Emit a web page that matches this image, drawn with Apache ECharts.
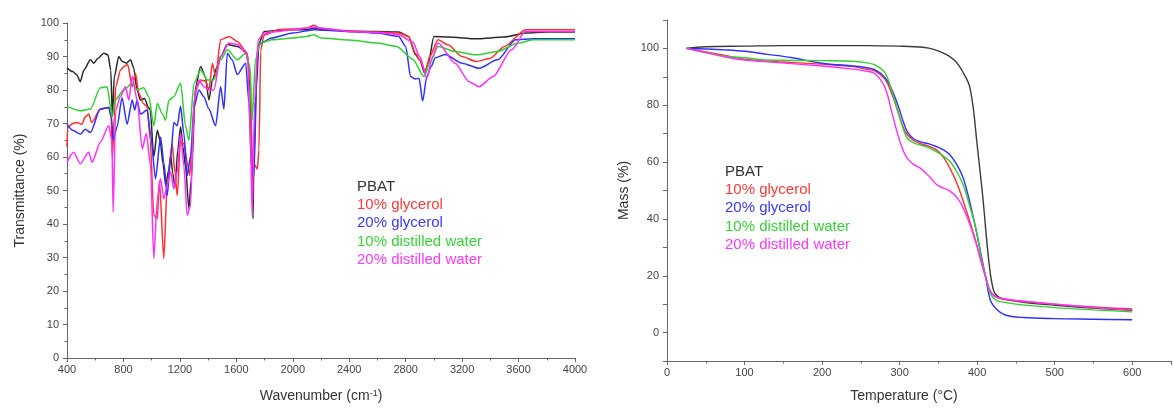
<!DOCTYPE html>
<html>
<head>
<meta charset="utf-8">
<script src="https://cdn.jsdelivr.net/npm/echarts@6/dist/echarts.min.js"></script>
<style>
html,body{margin:0;padding:0;background:#fff;}
#chart{width:1174px;height:408px;}
</style>
</head>
<body>
<div id="chart"></div>
<script>
// ---------- Data ----------
const seriesNames = ['PBAT', '10% glycerol', '20% glycerol', '10% distilled water', '20% distilled water'];

// FTIR: [wavenumber (cm-1), transmittance (%)]
const irPBAT = [[400,86.6],[440,85.5],[470,84.5],[494,82.5],[520,86],[566,89],[590,88],[620,89.5],[660,91],[690,90.5],[710,86],[722,72],[735,84],[767,90],[790,88.6],[820,88],[850,89],[870,87],[897,80],[920,77],[950,77.5],[975,75],[990,74],[1015,60],[1040,68],[1060,65],[1080,58],[1100,51.5],[1120,56],[1135,60.4],[1150,55],[1165,51],[1185,62],[1205,69],[1222,63],[1240,57],[1264,44.6],[1280,53],[1311,81],[1347,87],[1380,84],[1406,77],[1430,83],[1465,87],[1489,90],[1536,93.6],[1607,93],[1666,91.6],[1690,87],[1700,77],[1712,58],[1718,41.6],[1725,60],[1740,80],[1761,94],[1797,97.5],[1900,97.8],[2000,98],[2100,98],[2150,98.5],[2200,98],[2400,97.5],[2600,97.5],[2750,97.3],[2820,96],[2870,90.5],[2900,89],[2935,85],[2960,88],[3000,96],[3100,95.8],[3300,95.3],[3500,95.8],[3650,97],[3800,97.3],[4000,97.3]];
const irGly10 = [[400,63],[405,68.8],[440,70],[470,70.3],[506,69.8],[530,72],[554,72.8],[575,70.3],[636,74.3],[696,74.8],[712,72],[722,60],[735,72],[745,81],[780,86],[802,87],[830,87.6],[862,81],[885,85],[909,79],[940,76],[968,75],[990,65],[1015,42.6],[1040,41.6],[1055,53],[1086,29.7],[1110,51.5],[1145,64],[1165,55.4],[1181,48.5],[1205,65],[1228,64],[1252,58.4],[1270,54.5],[1288,65],[1311,80],[1347,83],[1382,82.7],[1406,80],[1430,88],[1453,84],[1489,95],[1548,96],[1607,94.5],[1678,91],[1700,82],[1712,57.4],[1725,58],[1749,56.4],[1760,62],[1773,92],[1797,96.5],[1900,98],[2000,98.2],[2100,98.5],[2150,99.3],[2200,98.3],[2400,97.7],[2600,97.3],[2750,97],[2820,96],[2870,91],[2900,89],[2940,85.6],[2970,90],[3030,95],[3100,93.5],[3200,90],[3300,88.5],[3400,89.5],[3500,93],[3650,98],[3800,98],[4000,98]];
const irGly20 = [[400,69.8],[440,68],[494,66.8],[530,68.3],[566,67.3],[636,74.3],[696,74.8],[715,72],[727,65],[755,69],[790,77.7],[826,69.8],[862,77],[880,74],[897,77],[920,72.8],[968,74],[992,67],[1027,53.5],[1063,66],[1086,58.4],[1110,48.5],[1134,59.4],[1157,70.3],[1181,69.3],[1205,75.2],[1228,67],[1252,54.5],[1276,60.4],[1300,75],[1335,80],[1370,78],[1406,74.3],[1453,69.3],[1489,81],[1512,74.3],[1536,91],[1570,89],[1607,84.6],[1666,88],[1690,76],[1706,57.4],[1725,54.5],[1749,92],[1773,94],[1850,95.5],[2000,97],[2150,98],[2400,97.5],[2600,97],[2750,96],[2800,93],[2835,84],[2870,83.3],[2895,83.5],[2920,76.7],[2950,84],[2980,87],[3010,89.6],[3080,90.6],[3200,88],[3320,86.5],[3450,89],[3580,95],[3700,95.3],[4000,95.3]];
const irWat10 = [[400,75.2],[494,73.8],[566,74.3],[636,80.7],[684,81],[720,72],[742,77],[802,80],[862,82],[897,80],[944,80.7],[980,78],[1015,69.3],[1040,76],[1075,73],[1098,71],[1122,77],[1157,78],[1205,82],[1240,69.3],[1264,65],[1300,82],[1347,86],[1394,83],[1441,83],[1489,89],[1536,92],[1607,89],[1666,91],[1697,87],[1712,71],[1735,89],[1770,94],[1850,95],[2000,95.5],[2100,96],[2150,96.5],[2200,95.5],[2400,94.9],[2600,94],[2736,93],[2850,89.2],[2930,84],[2970,88],[3030,93],[3150,91.5],[3300,90.5],[3450,91.5],[3600,94],[3700,95],[4000,95]];
const irWat20 = [[400,58.4],[447,61.4],[494,58],[554,61.4],[578,58.4],[636,64.4],[696,69.3],[718,65],[727,43.5],[745,74],[778,78],[814,81],[838,77],[862,84],[897,77],[933,62.4],[962,67],[992,57.4],[1015,29.7],[1040,47.5],[1063,53.5],[1086,47.5],[1110,51.5],[1134,55.5],[1157,50.5],[1181,55.5],[1205,67],[1228,57.4],[1252,42.6],[1276,45.5],[1300,77],[1335,83],[1370,81],[1406,80],[1441,80],[1489,90],[1548,94],[1607,93.6],[1678,90.6],[1700,67],[1712,42.6],[1730,77],[1755,95],[1797,97],[1900,97.5],[2000,98],[2150,98.7],[2400,97.5],[2600,97.2],[2750,96.5],[2850,94.3],[2900,90],[2950,83.5],[2990,90],[3030,94],[3150,88],[3250,82.5],[3320,81],[3420,84],[3550,92],[3650,97.5],[4000,97.5]];

// TGA: [temperature (°C), mass (%)]
const tgaPBAT = [[25,100],[50,100.6],[100,100.8],[150,101],[200,101],[256,101],[300,100.8],[330,100.4],[345,99.6],[360,97.9],[370,96],[377,93.8],[385,90],[390,86.9],[395,79],[400,66],[407,48.5],[415,25.3],[421,15],[428,12.5],[450,11],[500,9.6],[550,8.6],[600,7.8]];
const tgaGly10 = [[25,100],[50,98.8],[75,97.5],[100,96.2],[130,95.5],[200,94.5],[240,93.6],[256,92.7],[268,92.1],[281,89.2],[290,84],[298,77.6],[305,72],[310,69.6],[318,67.6],[327,66.5],[338,65.5],[348,64.2],[357,61.5],[365,57.8],[374,52.5],[382,46.3],[390,39.5],[398,32.3],[405,25],[411,19.5],[417,14.5],[424,12.6],[432,11.8],[450,11.2],[500,10],[550,9],[600,8.3]];
const tgaGly20 = [[25,100],[50,99.8],[75,99.5],[100,99],[130,97.9],[160,96.8],[200,94.8],[240,93.8],[256,93.3],[268,92.5],[281,89.8],[290,85.5],[298,79.9],[305,74],[310,70.6],[318,68.2],[327,67.1],[338,66.4],[348,65.4],[357,64.2],[365,62.5],[374,59],[382,54.4],[390,46.5],[398,36.9],[405,27.5],[411,19.5],[417,11.4],[425,8.2],[436,6.2],[460,5.3],[500,4.9],[550,4.7],[600,4.5]];
const tgaWat10 = [[25,100],[50,98.5],[75,97.3],[100,96.7],[130,95.9],[200,95.7],[240,95.5],[256,95],[268,94.2],[281,91.5],[290,85],[298,77.6],[305,71.5],[310,68.3],[318,66.8],[327,66],[338,65],[348,63.6],[357,62],[365,60.2],[374,56.5],[382,52],[390,45],[398,36.9],[405,27],[411,19.5],[417,13.7],[424,11.5],[432,10.8],[450,10],[500,8.8],[550,8],[600,7.3]];
const tgaWat20 = [[25,100],[50,98.5],[75,97],[100,95.9],[130,95.3],[200,93.8],[240,92.7],[256,92],[268,91.2],[281,86.3],[290,77.5],[298,69.4],[305,63.8],[310,61.3],[318,59.2],[327,57.8],[338,55],[348,52],[357,50.8],[365,49.8],[374,47.5],[382,43.9],[390,38.5],[398,32],[405,25.5],[411,19.5],[417,14.5],[424,12.6],[432,12],[450,11.3],[500,10],[550,8.8],[600,8]];

// ---------- Styling ----------
const colors = ['#2a2a2a', '#ff3030', '#3030ff', '#30d030', '#ff30ff'];
const tgaColors = ['#3a3a3a', '#ff3030', '#3030ff', '#30d030', '#ff30ff'];
const legendColors = ['#333333', '#ff3a3a', '#3a3aff', '#3ad03a', '#ff3aff'];
const FONT = 'Liberation Sans, Arial, sans-serif';

const axisCommon = {
  splitLine: { show: false },
  axisLine: { show: true, onZero: false, lineStyle: { color: '#666', width: 1 } },
  axisTick: { show: true, length: 4, lineStyle: { color: '#666' } },
  axisLabel: { color: '#444', fontSize: 11, fontFamily: FONT },
  nameTextStyle: { color: '#333', fontSize: 14, fontFamily: FONT },
  nameLocation: 'middle'
};

function mkSeries(name, data, color, xi, smooth, width, mono) {
  const s = {
    type: 'line', name: name, data: data, xAxisIndex: xi, yAxisIndex: xi,
    showSymbol: false, symbol: 'none', smooth: smooth,
    lineStyle: { color: color, width: width }, itemStyle: { color: color },
    silent: true, animation: false
  };
  if (mono) s.smoothMonotone = mono;
  return s;
}

const irSets = [irPBAT, irGly10, irGly20, irWat10, irWat20];
const tgaSets = [tgaPBAT, tgaGly10, tgaGly20, tgaWat10, tgaWat20];

const series = [];
irSets.forEach((d, i) => series.push(mkSeries(seriesNames[i], d, colors[i], 0, 0.25, 1.5, 'x')));
tgaSets.forEach((d, i) => series.push(mkSeries(seriesNames[i], d, tgaColors[i], 1, 0.35, 1.4, null)));

function legendAt(left, top) {
  return {
    orient: 'vertical', left: left, top: top, padding: 0,
    icon: 'none', itemWidth: 0, itemHeight: 14, itemGap: 3.3,
    selectedMode: false,
    textStyle: { fontSize: 15, fontFamily: FONT },
    data: seriesNames.map((n, i) => ({ name: n, textStyle: { color: legendColors[i], fontSize: 15 } }))
  };
}

const plain = v => String(v);

const chart = echarts.init(document.getElementById('chart'), null, { renderer: 'canvas' });
chart.setOption({
  animation: false,
  backgroundColor: '#fff',
  legend: [legendAt(352, 179), legendAt(720, 164)],
  grid: [
    { left: 67, top: 23, width: 508, height: 337 },
    { left: 667, top: 20, width: 516, height: 344.5 }
  ],
  xAxis: [
    Object.assign({}, axisCommon, {
      type: 'value', gridIndex: 0, min: 400, max: 4000, interval: 400,
      minorTick: { show: true, splitNumber: 2, length: 2.5, lineStyle: { color: '#666' } },
      name: '{a|Wavenumber (cm}{b|-1}{a|)}', nameGap: 31,
      nameTextStyle: { rich: {
        a: { color: '#333', fontSize: 14, fontFamily: FONT },
        b: { color: '#333', fontSize: 9, fontFamily: FONT, verticalAlign: 'top' }
      } },
      axisLabel: { color: '#444', fontSize: 11, fontFamily: FONT, margin: 6, formatter: plain }
    }),
    Object.assign({}, axisCommon, {
      type: 'value', gridIndex: 1, min: 0, max: 650, interval: 100,
      minorTick: { show: true, splitNumber: 2, length: 2.5, lineStyle: { color: '#666' } },
      name: 'Temperature (°C)', nameGap: 28,
      nameTextStyle: { color: '#333', fontSize: 14, fontFamily: FONT, padding: [0, 30, 0, 0] },
      axisLabel: { color: '#444', fontSize: 11, fontFamily: FONT, margin: 6,
        formatter: v => (v % 100 === 0 ? String(v) : '') }
    })
  ],
  yAxis: [
    Object.assign({}, axisCommon, {
      type: 'value', gridIndex: 0, min: 0, max: 100, interval: 10,
      minorTick: { show: true, splitNumber: 2, length: 2.5, lineStyle: { color: '#666' } },
      name: 'Transmittance (%)', nameGap: 40,
      axisLabel: { color: '#444', fontSize: 11, fontFamily: FONT, formatter: plain }
    }),
    Object.assign({}, axisCommon, {
      type: 'value', gridIndex: 1, min: -10, max: 110, interval: 10,
      name: 'Mass (%)', nameGap: 36,
      axisLabel: { color: '#444', fontSize: 11, fontFamily: FONT,
        formatter: v => (v % 20 === 0 ? String(v) : '') }
    })
  ],
  series: series
});
</script>
</body>
</html>
